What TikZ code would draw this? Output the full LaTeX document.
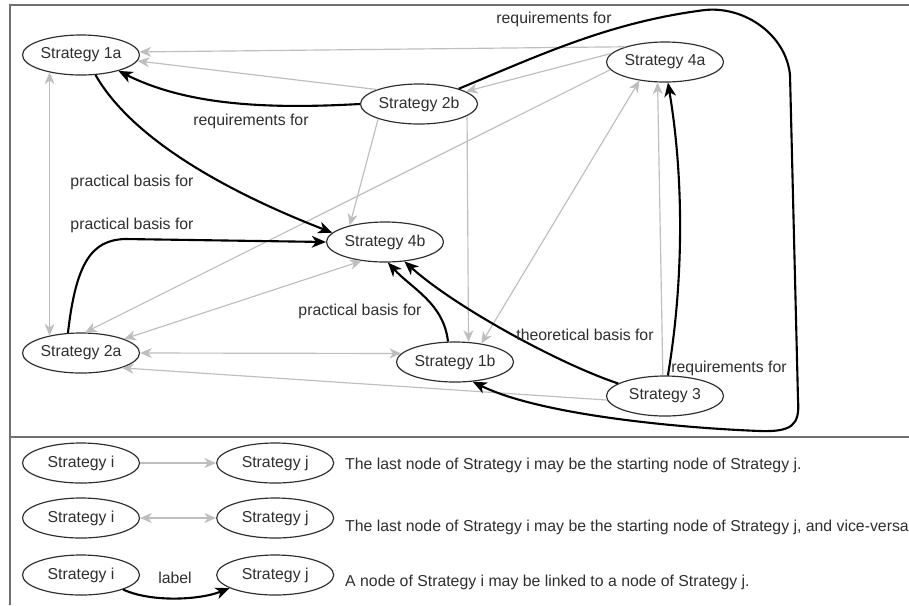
\documentclass[tikz,border=0pt]{standalone}
\usepackage{fontspec}
\setmainfont{Liberation Sans}
\usepackage{xcolor}
\usepackage{tikz}
\usetikzlibrary{arrows.meta, shapes.geometric, positioning}

\definecolor{inkgrey}{HTML}{2E2E2E}
\definecolor{refgrey}{HTML}{BEBEBE}
\definecolor{framegrey}{HTML}{707070}

\begin{document}
\begin{tikzpicture}[x=0.03cm,y=-0.03cm,font=\fontsize{13.5}{16}\selectfont,
                    main node/.style={ellipse,draw=inkgrey,line width=1pt,minimum width=3.51cm,minimum height=1.2cm,inner sep=0pt,text=inkgrey},
                    edge label/.style={inner sep=0pt,text=inkgrey},
                    ref line/.style={draw=refgrey,line width=1pt,-{Stealth[length=10pt,width=8.5pt,inset=3pt]}},
                    mutual line/.style={ref line,{Stealth[length=10pt,width=8.5pt,inset=3pt]}-{Stealth[length=10pt,width=8.5pt,inset=3pt]}},
                    link line/.style={draw=black,line width=1.8pt,-{Stealth[length=12pt,width=10pt,inset=3.5pt]}}]

  \clip (0,0) rectangle (909,605);

  \draw[framegrey,line width=1.3pt] (909,5) -- (10,5) -- (10,605);
  \draw[framegrey,line width=1.3pt] (10,437) -- (909,437);

  \node[main node] (1a) at (81,55) {Strategy 1a};
  \node[main node] (2b) at (419,104) {Strategy 2b};
  \node[main node] (4a) at (665,62) {Strategy 4a};
  \node[main node] (4b) at (385,242) {Strategy 4b};
  \node[main node] (2a) at (81,353) {Strategy 2a};
  \node[main node] (1b) at (455,362) {Strategy 1b};
  \node[main node] (3) at (665,396) {Strategy 3};

  \path[every edge/.style={ref line}]
  (4a.159) edge (1a.3)
  (2b.161) edge (1a.-6)
  (4a.171) edge (2b.15)
  (4a.188) edge (2a.79)
  (2b.200) edge (4b.155)
  (2b.346) edge (1b.56)
  (3.96) edge (4a.250)
  (3.184) edge (2a.-20);

  \path[every edge/.style={mutual line}]
  (4a.216) edge (1b.35)
  (2a.0) edge (1b.171)
  (2a.18) edge (4b.219)
  (1a.209) edge (2a.151);

  \draw[link line] (2b.west) .. controls +(-90,5) and +(70,35) .. (1a.-23);
  \draw[link line] (1a.-54) .. controls +(40,70) and +(-90,-35) .. (4b.170);
  \draw[link line] (2a.123) .. controls (76,262) and (92,240) .. (125,239) -- (4b.west);
  \draw[link line] (1b.109) .. controls +(-4,-38) and +(24,26) .. (4b.-82);
  \draw[link line] (3.165) .. controls +(-60,-20) and +(50,45) .. (4b.-45);
  \draw[link line] (3.82) .. controls +(16,-95) and +(16,95) .. (4a.-82);
  \draw[link line] (2b.21) .. controls (540,55) and (610,22) .. (705,10)
                   .. controls (745,6) and (786,35) .. (790,75) -- (798,400)
                   .. controls (800,425) and (792,432) .. (760,431)
                   .. controls (680,428) and (540,415) .. (1b.-48);

  \node[edge label] (req2b1a) at (251,121) {requirements for};
  \node[edge label] (prac1a4b) at (132,182) {practical basis for};
  \node[edge label] (prac2a4b) at (132,225) {practical basis for};
  \node[edge label] (prac1b4b) at (360,311) {practical basis for};
  \node[edge label] (theo34b) at (585,335) {theoretical basis for};
  \node[edge label] (req34a) at (729,368) {requirements for};
  \node[edge label] (req2b1b) at (554,19) {requirements for};

  \node[main node] (i1) at (81,463) {Strategy i};
  \node[main node] (j1) [right=2.28cm of i1] {Strategy j};
  \node[main node] (i2) at (81,518) {Strategy i};
  \node[main node] (j2) [right=2.28cm of i2] {Strategy j};
  \node[main node] (i3) at (81,575) {Strategy i};
  \node[main node] (j3) [right=2.28cm of i3] {Strategy j};

  \path[every edge/.style={ref line}] (i1) edge (j1);
  \path[every edge/.style={mutual line}] (i2) edge (j2);
  \draw[link line] (i3.-19) .. controls +(28,13) and +(-30,12) .. (j3.196);
  \node[edge label] (lbl) at (175,578) {label};

  \node[edge label,anchor=west] (d1) at (345,465) {The last node of Strategy i may be the starting node of Strategy j.};
  \node[edge label,anchor=west] (d2) at (345,527) {The last node of Strategy i may be the starting node of Strategy j, and vice-versa};
  \node[edge label,anchor=west] (d3) at (345,582) {A node of Strategy i may be linked to a node of Strategy j.};

\end{tikzpicture}
\end{document}
